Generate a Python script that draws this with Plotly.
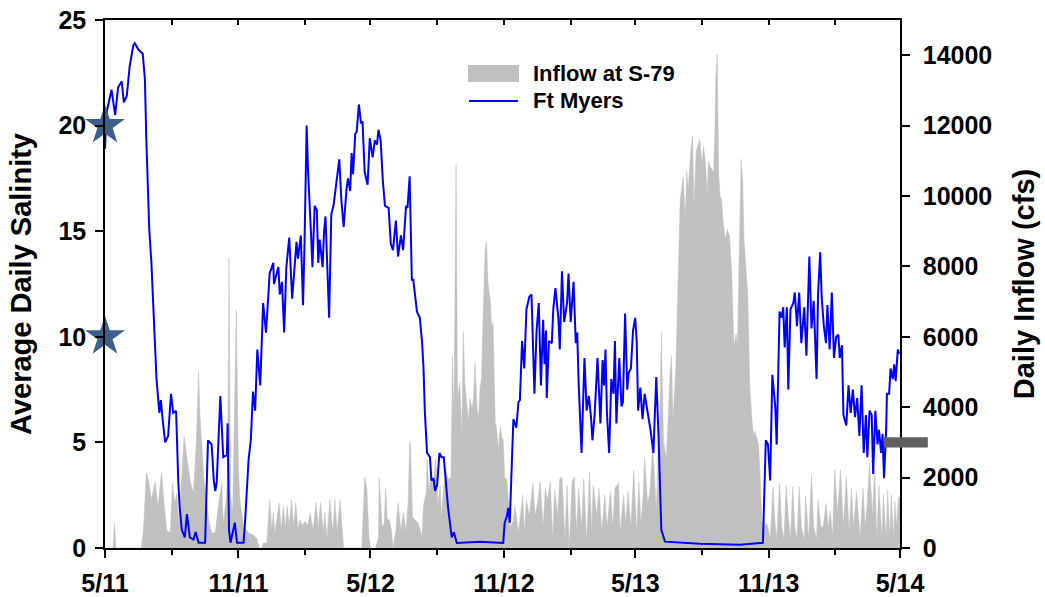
import pandas as pd
import plotly.graph_objects as go

# Record start; every series is indexed by days since this date
START = pd.Timestamp("2011-05-01")
END = pd.Timestamp("2014-05-01")

# Ft Myers average daily salinity
sal_days = [
    0, 2, 9, 14, 18, 23, 26, 30, 34, 39,
    41, 46, 52, 55, 57, 61, 64, 68, 71, 75,
    77, 80, 83, 87, 91, 94, 98, 101, 103, 106,
    110, 113, 117, 122, 125, 129, 138, 142, 147, 150,
    152, 154, 159, 163, 168, 169, 171, 173, 179, 182,
    191, 193, 198, 201, 204, 207, 210, 214, 218, 222,
    224, 227, 232, 233, 239, 241, 244, 247, 250, 254,
    258, 261, 264, 266, 270, 273, 275, 278, 280, 284,
    286, 289, 292, 294, 296, 300, 302, 304, 309, 312,
    315, 319, 323, 326, 329, 333, 335, 338, 340, 342,
    345, 347, 350, 353, 355, 358, 362, 365, 369, 372,
    375, 377, 380, 383, 386, 391, 394, 397, 401, 404,
    408, 411, 415, 417, 420, 423, 425, 427, 430, 434,
    437, 439, 441, 444, 448, 450, 453, 455, 458, 461,
    464, 467, 470, 473, 478, 481, 485, 517, 549, 551,
    554, 556, 558, 561, 563, 567, 570, 572, 575, 578,
    581, 585, 588, 592, 595, 598, 601, 604, 606, 608,
    609, 612, 616, 618, 621, 625, 627, 630, 633, 637,
    639, 642, 646, 649, 651, 653, 657, 661, 664, 667,
    670, 672, 675, 679, 683, 686, 688, 690, 692, 695,
    698, 701, 703, 705, 709, 712, 714, 717, 720, 722,
    725, 728, 731, 733, 735, 738, 741, 744, 746, 749,
    752, 756, 760, 763, 765, 767, 772, 820, 875, 907,
    911, 914, 917, 920, 924, 926, 930, 933, 935, 937,
    940, 942, 945, 949, 951, 954, 957, 960, 964, 967,
    971, 974, 977, 979, 981, 983, 986, 988, 991, 994,
    996, 999, 1002, 1005, 1008, 1011, 1013, 1016, 1018, 1022,
    1025, 1028, 1031, 1034, 1037, 1040, 1043, 1046, 1049, 1051,
    1054, 1057, 1059, 1062, 1065, 1067, 1070, 1072, 1074, 1077,
    1078, 1081, 1083, 1086, 1088, 1090, 1093, 1095,
]
sal_vals = [
    18.9, 20.6, 21.7, 20.5, 21.8, 22.1, 21.1, 21.4, 22.8, 23.8,
    23.9, 23.6, 23.4, 22.2, 19.3, 15.1, 13.5, 10.2, 8.0, 6.4,
    7.0, 5.9, 5.0, 5.3, 7.3, 6.4, 6.5, 3.2, 1.9, 0.85,
    0.5, 1.6, 0.5, 0.4, 0.76, 0.25, 0.25, 5.1, 4.9, 3.2,
    2.7, 3.1, 7.2, 4.3, 4.4, 5.9, 0.85, 0.25, 1.2, 0.25,
    0.25, 1.2, 4.2, 5.1, 7.4, 6.5, 9.4, 7.7, 11.6, 10.2,
    11.4, 13.0, 13.5, 12.5, 13.3, 12.0, 12.6, 10.2, 13.3, 14.7,
    11.8, 13.2, 14.5, 13.7, 14.8, 11.5, 14.3, 20.0, 17.8, 14.9,
    13.3, 16.2, 16.0, 13.5, 14.6, 13.3, 15.0, 15.7, 10.9, 15.8,
    16.2, 17.3, 18.4, 16.4, 15.2, 17.0, 17.5, 16.9, 18.7, 17.7,
    19.6, 19.7, 21.0, 20.1, 20.2, 17.8, 17.2, 19.4, 18.5, 19.3,
    19.1, 19.8, 19.3, 17.4, 16.2, 16.1, 14.4, 14.1, 15.5, 13.8,
    14.8, 14.1, 16.2, 16.1, 17.6, 12.7, 12.7, 12.1, 11.2, 10.9,
    9.8, 8.6, 6.4, 4.5, 4.3, 3.2, 3.3, 2.7, 3.0, 4.5,
    4.3, 4.3, 3.2, 1.9, 0.5, 0.75, 0.24, 0.3, 0.24, 1.2,
    1.5, 1.9, 1.2, 3.7, 6.1, 5.7, 6.9, 7.0, 9.8, 8.5,
    11.3, 11.9, 12.0, 7.3, 10.3, 11.6, 7.7, 10.8, 8.7, 10.3,
    7.1, 9.8, 9.7, 11.3, 12.3, 10.9, 9.4, 13.1, 10.7, 11.6,
    13.0, 10.7, 12.6, 9.7, 10.2, 7.8, 4.5, 9.0, 6.5, 7.2,
    6.2, 5.1, 6.3, 9.0, 5.9, 8.9, 7.7, 9.4, 6.4, 4.5,
    8.0, 7.3, 9.8, 5.9, 9.0, 6.7, 6.9, 11.1, 7.5, 8.3,
    8.5, 10.3, 10.9, 9.8, 6.5, 7.6, 6.1, 7.3, 6.9, 6.2,
    5.6, 4.5, 8.1, 5.4, 3.5, 0.85, 0.3, 0.2, 0.15, 0.25,
    5.1, 4.9, 3.2, 8.2, 6.7, 4.9, 11.2, 10.9, 11.4, 9.5,
    11.4, 7.5, 11.3, 11.6, 12.1, 10.5, 12.1, 9.7, 11.4, 9.1,
    13.8, 10.4, 11.7, 9.5, 8.0, 12.0, 14.0, 11.9, 10.5, 9.7,
    11.5, 9.4, 12.1, 9.0, 10.0, 10.1, 9.0, 9.6, 6.3, 5.8,
    7.7, 6.4, 7.5, 6.2, 7.1, 5.3, 7.7, 4.5, 6.3, 4.3,
    6.5, 6.3, 3.5, 6.5, 4.9, 5.6, 4.5, 5.4, 3.3, 5.7,
    7.3, 7.3, 8.5, 8.0, 8.7, 7.9, 9.4, 9.2,
]

# Daily inflow at S-79 (cfs)
flow_days = [
    0, 10, 11, 13, 15, 50, 53, 57, 60, 64,
    69, 73, 78, 81, 85, 90, 93, 96, 99, 102,
    106, 109, 112, 115, 118, 122, 124, 126, 129, 131,
    134, 136, 140, 143, 147, 152, 156, 161, 163, 167,
    169, 171, 173, 176, 181, 184, 186, 191, 198, 204,
    209, 213, 216, 218, 223, 227, 230, 232, 234, 238,
    240, 243, 246, 249, 251, 254, 257, 260, 263, 266,
    269, 272, 276, 279, 283, 285, 287, 291, 294, 297,
    301, 303, 306, 310, 314, 317, 320, 324, 328, 329,
    354, 356, 358, 361, 364, 366, 373, 377, 378, 380,
    382, 385, 387, 389, 392, 395, 397, 401, 404, 408,
    411, 415, 418, 420, 421, 424, 427, 431, 434, 437,
    439, 443, 444, 447, 449, 453, 456, 459, 462, 464,
    467, 470, 473, 477, 479, 481, 484, 486, 489, 492,
    494, 496, 500, 501, 503, 506, 508, 510, 513, 515,
    517, 519, 521, 524, 526, 528, 531, 533, 535, 538,
    540, 542, 545, 547, 549, 551, 554, 556, 559, 563,
    565, 570, 573, 576, 578, 581, 585, 590, 593, 597,
    600, 604, 607, 610, 614, 617, 620, 624, 627, 630,
    634, 637, 640, 644, 647, 650, 653, 657, 660, 664,
    668, 671, 673, 678, 681, 685, 689, 692, 697, 700,
    703, 708, 710, 715, 718, 721, 725, 729, 733, 736,
    739, 742, 744, 748, 751, 755, 757, 760, 763, 765,
    767, 770, 774, 779, 781, 783, 787, 790, 793, 797,
    800, 802, 804, 808, 810, 812, 815, 817, 818, 820,
    823, 825, 828, 830, 832, 834, 837, 839, 841, 842,
    844, 846, 848, 850, 852, 855, 858, 861, 864, 867,
    870, 872, 874, 877, 879, 881, 884, 886, 887, 889,
    892, 894, 896, 899, 901, 903, 906, 908, 910, 912,
    914, 917, 919, 921, 923, 926, 930, 933, 936, 939,
    942, 945, 948, 951, 954, 957, 960, 964, 966, 970,
    974, 977, 981, 983, 987, 990, 994, 997, 1000, 1003,
    1006, 1010, 1014, 1018, 1022, 1026, 1029, 1032, 1036, 1041,
    1045, 1048, 1051, 1054, 1058, 1061, 1064, 1067, 1071, 1073,
    1077, 1079, 1082, 1084, 1087, 1089, 1091, 1094, 1096,
]
flow_cfs = [
    0, 0, 0, 710, 0, 0, 510, 2130, 1930, 1370,
    1880, 1170, 2160, 1370, 510, 430, 1850, 1280, 1560, 710,
    2310, 3160, 2700, 2310, 1850, 1560, 2420, 3070, 5010, 3730,
    2790, 2020, 1370, 800, 430, 430, 1170, 1850, 710, 1370,
    1940, 8250, 1500, 1000, 6770, 2300, 1370, 600, 430, 370,
    280, 0, 0, 140, 140, 1370, 540, 1000, 420, 1090,
    1280, 540, 1170, 540, 1200, 630, 1370, 630, 1280, 540,
    800, 630, 770, 630, 1000, 710, 540, 1300, 540, 1300,
    450, 1000, 280, 1370, 450, 1370, 450, 1370, 260, 0,
    0, 1000, 2020, 1700, 300, 0, 0, 300, 2000, 1300,
    600, 700, 1700, 800, 800, 500, 0, 500, 1280, 500,
    1000, 500, 1300, 2990, 2990, 880, 800, 730, 560, 300,
    1200, 1600, 2500, 1620, 2160, 1800, 2540, 1220, 1760, 900,
    1780, 2220, 1930, 2020, 5440, 3700, 10900, 4200, 4700, 3270,
    6150, 4700, 3930, 3600, 4240, 3960, 4240, 5270, 3960, 3680,
    4530, 4810, 6400, 8480, 8710, 7530, 7060, 6300, 6400, 3560,
    3370, 2800, 3440, 3160, 3070, 2000, 1940, 1460, 600, 790,
    1210, 450, 920, 1510, 450, 1370, 920, 1850, 920, 1370,
    1880, 590, 1700, 1370, 1880, 280, 1650, 920, 1970, 2020,
    280, 1790, 0, 1880, 2020, 450, 1700, 590, 1970, 170,
    2160, 450, 1790, 920, 1700, 450, 1510, 590, 1600, 590,
    1700, 1850, 450, 1510, 680, 1610, 590, 2220, 450, 1880,
    680, 1510, 2560, 1280, 1560, 2870, 2270, 1070, 2870, 3630,
    6120, 3010, 2540, 4980, 5440, 3630, 5150, 7530, 9900, 10530,
    9390, 10700, 10200, 11400, 11700, 9700, 11270, 11400, 11490, 11600,
    10900, 11400, 10940, 9990, 11000, 10850, 10740, 10650, 12100, 13300,
    14030, 10650, 9990, 9900, 9330, 8770, 9050, 8870, 7800, 5720,
    6100, 5720, 7990, 11040, 10470, 8770, 7820, 7260, 6430, 4550,
    3620, 3220, 3320, 3090, 2940, 2090, 600, 880, 600, 700,
    600, 250, 880, 1740, 880, 250, 1850, 600, 250, 1770,
    880, 250, 1750, 600, 250, 1750, 600, 250, 1480, 250,
    2080, 600, 250, 1370, 600, 600, 1270, 600, 1050, 330,
    2220, 1000, 2220, 600, 2040, 450, 1700, 600, 1600, 330,
    1700, 600, 1330, 2420, 900, 2230, 250, 1780, 250, 1520,
    250, 1650, 250, 1520, 250, 1330, 600, 1450, 1450,
]

# Salinity reference levels marked on the left axis, and the target level at the right
star_levels = [20, 10]
target_level = 5

# Axis ticks
major_dates = pd.date_range(START, END, freq="6MS")
major_labels = ["5/11", "11/11", "5/12", "11/12", "5/13", "11/13", "5/14"]
quarter_dates = pd.date_range(START, END, freq="3MS")
flow_ticks = list(range(0, 14001, 2000))
flow_labels = [str(v) for v in flow_ticks]
sal_ticks = [0, 5, 10, 15, 20, 25]

FLOW_NAME = "Inflow at S-79"
SAL_NAME = "Ft Myers"
FLOW_COLOR = "#C0C0C0"
SAL_COLOR = "#0000FF"

assert len(sal_days) == len(sal_vals)
assert len(flow_days) == len(flow_cfs)

sal_dates = START + pd.to_timedelta(sal_days, unit="D")
flow_dates = START + pd.to_timedelta(flow_days, unit="D")

FONT = "Liberation Sans, Arial, sans-serif"
tick_font = dict(family=FONT, size=25, color="black", weight="bold")
title_font = dict(family=FONT, size=29, color="black", weight="bold")
key_font = dict(family=FONT, size=22, color="black", weight="bold")

fig = go.Figure()

fig.add_trace(go.Scatter(
    x=flow_dates, y=flow_cfs, name=FLOW_NAME,
    mode="lines", fill="tozeroy", fillcolor=FLOW_COLOR,
    line=dict(color=FLOW_COLOR, width=0.5),
    xaxis="x", yaxis="y", showlegend=False,
))
fig.add_trace(go.Scatter(
    x=sal_dates, y=sal_vals, name=SAL_NAME,
    mode="lines", line=dict(color=SAL_COLOR, width=2),
    xaxis="x", yaxis="y2", showlegend=False,
))
fig.add_trace(go.Scatter(
    x=[START] * len(star_levels), y=star_levels,
    mode="markers", showlegend=False, cliponaxis=False,
    marker=dict(symbol="star", size=30, color="#3C5F8C", line=dict(width=0)),
    xaxis="x2", yaxis="y2",
))

axis_common = dict(showgrid=False, zeroline=False, showline=True,
                   linecolor="black", linewidth=1.5, tickcolor="black",
                   tickwidth=1.5, automargin=False)

# Key drawn in paper coordinates: grey swatch, blue stroke, and labels
key_shapes = [
    dict(type="rect", xref="paper", yref="paper",
         x0=0.4566, x1=0.5208, y0=0.8826, y1=0.9148,
         fillcolor=FLOW_COLOR, line=dict(width=0)),
    dict(type="line", xref="paper", yref="paper",
         x0=0.4579, x1=0.5195, y0=0.8466, y1=0.8466,
         line=dict(color=SAL_COLOR, width=2)),
]
key_labels = [
    dict(text=FLOW_NAME, xref="paper", yref="paper", x=0.5358, y=0.8996,
         xanchor="left", yanchor="middle", showarrow=False, font=key_font),
    dict(text=SAL_NAME, xref="paper", yref="paper", x=0.5358, y=0.8466,
         xanchor="left", yanchor="middle", showarrow=False, font=key_font),
]

fig.update_layout(
    width=1045, height=597,
    margin=dict(l=105, r=145, t=20, b=49, pad=0),
    paper_bgcolor="white", plot_bgcolor="white",
    font=dict(family=FONT, color="black"),
    showlegend=False,
    xaxis=dict(
        type="date", range=[START, END],
        tickmode="array", tickvals=major_dates, ticktext=major_labels,
        ticks="outside", ticklen=8, tickfont=tick_font, ticklabelstandoff=4,
        minor=dict(tickmode="array", tickvals=quarter_dates, ticks="outside",
                   ticklen=5, tickwidth=1.5, tickcolor="black", showgrid=False),
        **axis_common,
    ),
    xaxis2=dict(
        type="date", range=[START, END], overlaying="x", side="top",
        tickmode="array", tickvals=quarter_dates, ticks="inside", ticklen=5,
        showticklabels=False, **axis_common,
    ),
    yaxis=dict(
        range=[0, 15000], side="right",
        tickmode="array", tickvals=flow_ticks, ticktext=flow_labels,
        ticks="outside", ticklen=8, tickfont=tick_font, ticklabelstandoff=8,
        title=dict(text="Daily Inflow (cfs)", font=title_font, standoff=22),
        **axis_common,
    ),
    yaxis2=dict(
        range=[0, 25], side="left", overlaying="y",
        tickmode="array", tickvals=sal_ticks,
        ticks="outside", ticklen=8, tickfont=tick_font, ticklabelstandoff=4,
        title=dict(text="Average Daily Salinity", font=title_font, standoff=18),
        **axis_common,
    ),
    shapes=key_shapes + [dict(
        type="rect", xref="paper", yref="y2",
        x0=0.980, x1=1.035, y0=target_level - 0.24, y1=target_level + 0.24,
        fillcolor="#606060", line=dict(width=0), layer="above",
    )],
    annotations=key_labels,
)

fig.write_html("out.html")
